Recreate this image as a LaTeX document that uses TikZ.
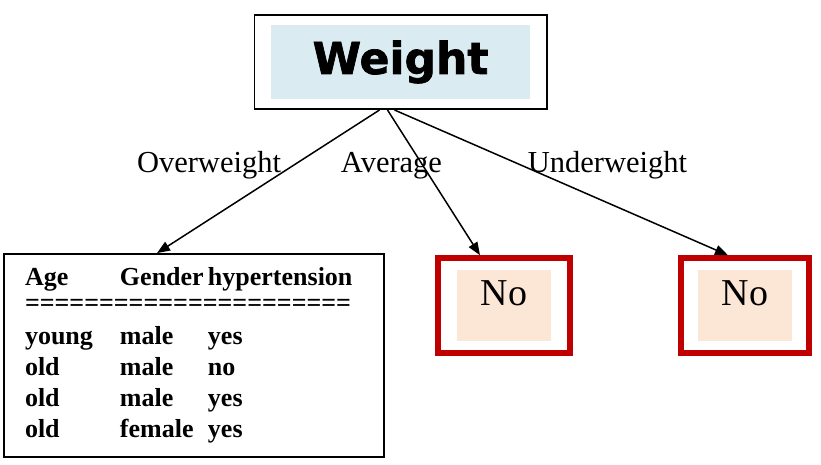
\documentclass[tikz,border=0pt]{standalone}
\usepackage{fontspec}
\setmainfont{Liberation Serif}
\newfontfamily\wtfont[FakeBold=1.6]{DejaVu Sans}
\usepackage{xcolor}
\usepackage{tikz}
\usetikzlibrary{arrows.meta, positioning, fit}
\definecolor{wtBlue}{HTML}{DAEBF1}
\definecolor{noPeach}{HTML}{FCE6D6}
\definecolor{noRed}{HTML}{C00000}
\newcommand{\trow}[3]{\makebox[95pt][l]{#1}\makebox[88pt][l]{#2}#3}
\tikzset{
  wtinner/.style={fill=wtBlue, minimum width=259pt, minimum height=74pt, inner sep=0pt,
                  font=\wtfont\bfseries\fontsize{44}{50}\selectfont},
  wtouter/.style={draw=black, line width=1.6pt, inner xsep=16.5pt, inner ysep=10pt},
  leafbox/.style={draw=noRed, line width=5.5pt, inner sep=0pt,
                  text height=26pt, text depth=26pt,
                  font=\fontsize{38}{42}\selectfont,
                  path picture={\fill[noPeach] ([xshift=-47pt,yshift=-35.5pt]path picture bounding box.center)
                                rectangle ([xshift=47pt,yshift=35.5pt]path picture bounding box.center);}},
  tblbox/.style={draw=black, line width=1.8pt, inner sep=0pt, align=left,
                 text width=338pt, minimum width=380pt, minimum height=203pt,
                 font=\bfseries\fontsize{26}{31}\selectfont},
  branchlbl/.style={anchor=base, inner sep=0pt, font=\fontsize{30.5}{34}\selectfont},
  treearr/.style={draw=black, line width=1.5pt, -{Triangle[length=13pt,width=10pt]}},
}

\begin{document}
\begin{tikzpicture}[x=1pt, y=-1pt]
\useasboundingbox (0,0) rectangle (821,465);
\node[wtinner] (weight) at (400.5,62) {Weight};
\node[wtouter, fit=(weight)] (wtbox) {};
\node[tblbox] (tbl) at (194,355.5) {\trow{Age}{Gender}{hypertension}\\[-5pt]
======================\\[2pt]
\trow{young}{male}{yes}\\
\trow{old}{male}{no}\\
\trow{old}{male}{yes}\\
\trow{old}{female}{yes}};
\node[leafbox, minimum width=132pt, minimum height=95pt] (no1) at (504,305.5) {No};
\node[leafbox, minimum width=128pt, minimum height=95pt] (no2) at (745,305.5) {No};

\node[branchlbl] (lover) at (209,173) {Overweight};
\node[branchlbl] (lavg) at (391.5,173) {Average};
\node[branchlbl] (lunder) at (607.5,173) {Underweight};

\draw[treearr] ([xshift=-21pt]wtbox.south) -- ([xshift=-37pt]tbl.north);
\draw[treearr] ([xshift=-13pt]wtbox.south) -- ([xshift=-24pt]no1.north);
\draw[treearr] ([xshift=-6pt]wtbox.south) -- ([xshift=-17pt]no2.north);
\end{tikzpicture}
\end{document}
